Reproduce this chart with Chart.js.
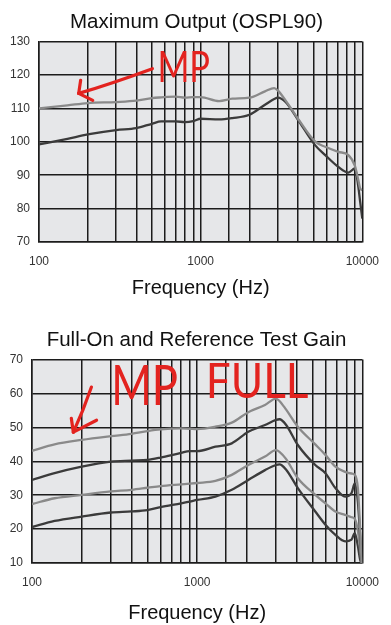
<!DOCTYPE html>
<html>
<head>
<meta charset="utf-8">
<script src="https://cdn.jsdelivr.net/npm/chart.js@4.4.0/dist/chart.umd.min.js"></script>
<style>
  html, body { margin: 0; padding: 0; background: #fff; }
  .panel { position: relative; width: 391px; }
  #top { height: 310px; }
  #bottom { height: 315px; }
</style>
</head>
<body>
<div class="panel" id="top"><canvas id="osplChart"></canvas></div>
<div class="panel" id="bottom"><canvas id="gainChart"></canvas></div>
<script>
// x ticks that get a label (gridlines are drawn at every log step)
const freqTickLabels = [100, 1000, 10000];

// Maximum Output (OSPL90), dB SPL
const osplFreqs = [100, 150, 200, 300, 400, 500, 570, 700, 800, 900, 1000, 1300, 1570, 2000, 2500, 2850, 3000, 3350, 4000, 5100, 5900, 7100, 8200, 9000, 9450, 9700, 10000];
const osplLight = [110, 110.9, 111.6, 111.9, 112.3, 113.1, 113.3, 113.5, 113.2, 113.4, 113.4, 112.2, 112.9, 113.2, 115.1, 116.1, 115.4, 112.4, 106.9, 100.1, 98.5, 97.0, 96.0, 92.8, 88.5, 86, 85.5];
const osplDark = [99.2, 100.9, 102.2, 103.5, 104.1, 105.4, 106.1, 106.1, 105.9, 106.2, 106.9, 106.7, 107.1, 108.1, 111.1, 112.8, 113.2, 111.9, 106.6, 99.0, 96.0, 92.5, 90.8, 92.0, 86.5, 82, 77];

// Full-On and Reference Test Gain, dB
const gainFreqs = [100, 137, 200, 300, 400, 500, 600, 800, 900, 1000, 1290, 1620, 2040, 2575, 3000, 3150, 3450, 4070, 5190, 5980, 6870, 7860, 8600, 9000, 9400, 9700, 9900];
const gainFullLight = [43.1, 45.0, 46.3, 47.4, 48.1, 48.9, 49.4, 49.7, 49.6, 49.5, 50.2, 51.4, 54.5, 56.6, 58.5, 57.8, 55.3, 50.2, 45.0, 41.9, 38.4, 36.9, 36.4, 36.0, 32, 20, 10];
const gainFullDark = [34.5, 36.5, 38.4, 39.9, 40.2, 40.4, 41.1, 42.5, 43.0, 43.0, 44.3, 45.3, 48.7, 50.7, 52.2, 52.4, 50.8, 44.8, 38.9, 36.5, 32.1, 29.6, 30.6, 33.5, 28, 18, 10];
const gainRefLight = [27.4, 29.1, 30.1, 31.1, 31.6, 32.2, 32.7, 33.2, 33.4, 33.6, 34.2, 36.0, 38.9, 41.4, 43.3, 42.8, 40.7, 35.0, 30.1, 27.6, 25.2, 24.2, 23.5, 23.0, 19.5, 14, 10];
const gainRefDark = [20.6, 22.4, 23.7, 24.9, 25.2, 25.6, 26.5, 27.6, 28.1, 28.6, 29.6, 31.6, 34.5, 37.4, 38.9, 39.1, 37.6, 32.1, 25.2, 21.3, 18.3, 16.4, 16.9, 18.8, 15, 11, 10];

// hand-written red notes, placed in data units [freq, dB]
const osplNotes = { text: [{ label: 'MP', at: [540, 117.8], size: 42, squeeze: 0.82 }],
  arrow: [[503, 121.9], [273, 117.2], [176, 114.5]], head: [[181, 118.4], [215, 112.4]] };
const gainNotes = { text: [{ label: 'MP', at: [302, 56.6], size: 56, squeeze: 0.78 }, { label: 'FULL', at: [1128, 58.6], size: 49, squeeze: 0.9 }],
  arrow: [[229, 61.9], [205, 55], [178, 48.6]], head: [[173, 52.7], [246, 52.1]] };

const LIGHT = '#8a8a8a';
const DARK = '#3b3b3b';
const GRID = '#1c1c1c';
const RED = '#e3231f';

Chart.defaults.font.family = "'Liberation Sans', Arial, sans-serif";

const pts = (xs, ys) => xs.map((x, i) => ({ x: x, y: ys[i] }));

const line = (data, color) => ({
  data: data,
  borderColor: color,
  borderWidth: 2.3,
  pointRadius: 0,
  fill: false,
  cubicInterpolationMode: 'monotone'
});

const plotBackground = {
  id: 'plotBackground',
  beforeDraw(chart) {
    const { ctx, chartArea: a } = chart;
    ctx.save();
    ctx.fillStyle = '#e6e7e9';
    ctx.fillRect(a.left, a.top, a.right - a.left, a.bottom - a.top);
    ctx.restore();
  }
};

const redNotes = {
  id: 'redNotes',
  afterDatasetsDraw(chart, args, opts) {
    const notes = opts.notes;
    if (!notes) return;
    const { ctx, scales: { x, y } } = chart;
    const px = p => [x.getPixelForValue(p[0]), y.getPixelForValue(p[1])];
    ctx.save();
    ctx.fillStyle = RED;
    ctx.strokeStyle = RED;
    ctx.lineWidth = 3.2;
    ctx.lineCap = 'round';
    ctx.lineJoin = 'round';
    notes.text.forEach(t => {
      const [tx, ty] = px(t.at);
      ctx.save();
      ctx.translate(tx, ty);
      ctx.scale(t.squeeze, 1);
      ctx.font = `${t.size}px Lato, 'Liberation Sans', sans-serif`;
      ctx.textBaseline = 'alphabetic';
      ctx.fillText(t.label, 0, 0);
      ctx.restore();
    });
    const a = notes.arrow.map(px);
    ctx.beginPath();
    ctx.moveTo(a[0][0], a[0][1]);
    ctx.quadraticCurveTo(a[1][0], a[1][1], a[2][0], a[2][1]);
    ctx.stroke();
    const tip = a[2];
    notes.head.map(px).forEach(h => {
      ctx.beginPath();
      ctx.moveTo(h[0], h[1]);
      ctx.lineTo(tip[0], tip[1]);
      ctx.stroke();
    });
    ctx.restore();
  }
};

function makeChart(id, cfg) {
  return new Chart(document.getElementById(id), {
    type: 'line',
    data: { datasets: cfg.datasets },
    options: {
      responsive: true,
      maintainAspectRatio: false,
      animation: false,
      layout: { padding: { left: 8, right: 6, top: 0, bottom: 0 } },
      plugins: {
        legend: { display: false },
        tooltip: { enabled: false },
        title: {
          display: true,
          text: cfg.title,
          color: '#111',
          font: { size: 20.5, weight: 'normal' },
          padding: cfg.titlePadding
        },
        redNotes: { notes: cfg.notes }
      },
      scales: {
        x: {
          type: 'logarithmic',
          min: 100,
          max: 10000,
          afterFit: s => { s.height = cfg.xHeight; },
          grid: { color: GRID, lineWidth: 1.5, drawTicks: false },
          border: { color: GRID, width: 1.5 },
          ticks: {
            autoSkip: false,
            maxRotation: 0,
            padding: 12,
            color: '#333',
            font: { size: 12 },
            callback: v => freqTickLabels.includes(v) ? String(v) : ''
          },
          title: {
            display: true,
            text: 'Frequency (Hz)',
            color: '#111',
            font: { size: 20 },
            padding: { top: 0, bottom: cfg.xTitleBottom }
          }
        },
        y: {
          min: cfg.yMin,
          max: cfg.yMax,
          afterFit: s => { s.width = cfg.yWidth; },
          grid: { color: GRID, lineWidth: 1.5, drawTicks: false },
          border: { color: GRID, width: 1.5 },
          ticks: { stepSize: 10, padding: 9, color: '#333', font: { size: 12 } }
        },
        // empty right-hand spacer so the plot ends where the original does
        spacer: {
          position: 'right',
          min: 0,
          max: 1,
          afterFit: s => { s.width = 21; },
          grid: { display: false, drawTicks: false },
          border: { display: false },
          ticks: { display: false }
        }
      }
    },
    plugins: [plotBackground, redNotes]
  });
}

makeChart('osplChart', {
  title: 'Maximum Output (OSPL90)',
  titlePadding: { top: 10, bottom: 7 },
  yMin: 70, yMax: 130, yWidth: 31, xHeight: 68, xTitleBottom: 10,
  notes: osplNotes,
  datasets: [line(pts(osplFreqs, osplLight), LIGHT), line(pts(osplFreqs, osplDark), DARK)]
});

makeChart('gainChart', {
  title: 'Full-On and Reference Test Gain',
  titlePadding: { top: 18, bottom: 7 },
  yMin: 10, yMax: 70, yWidth: 24, xHeight: 62, xTitleBottom: 0,
  notes: gainNotes,
  datasets: [
    line(pts(gainFreqs, gainFullLight), LIGHT),
    line(pts(gainFreqs, gainFullDark), DARK),
    line(pts(gainFreqs, gainRefLight), LIGHT),
    line(pts(gainFreqs, gainRefDark), DARK)
  ]
});
</script>
</body>
</html>
